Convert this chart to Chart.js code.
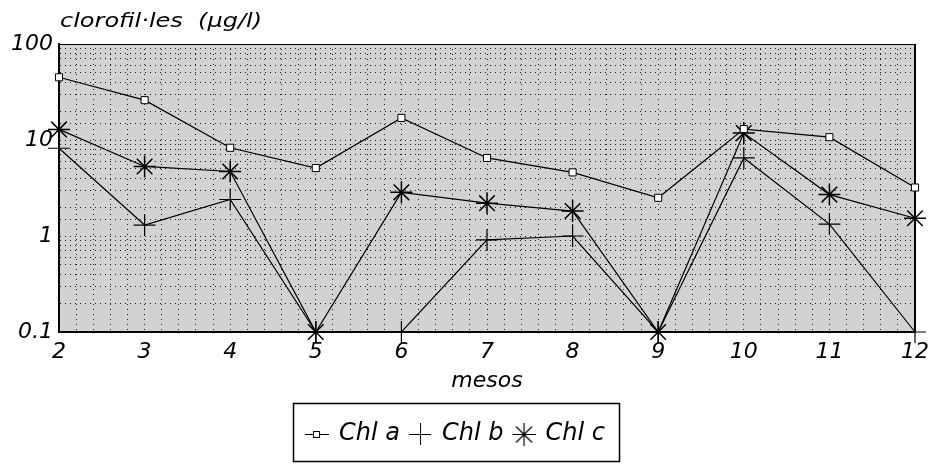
<!DOCTYPE html>
<html>
<head>
<meta charset="utf-8">
<script src="https://cdn.jsdelivr.net/npm/chart.js@4/dist/chart.umd.min.js"></script>
<style>
  html, body { margin: 0; padding: 0; background: #fff; }
  #c { display: block; }
</style>
</head>
<body>
<canvas id="c" width="941" height="466"></canvas>
<script>
// ---- data ----
const months = [2, 3, 4, 5, 6, 7, 8, 9, 10, 11, 12];
const chlA = [45, 26, 8.3, 5.1, 17, 6.5, 4.6, 2.5, 13, 10.7, 3.2];
const chlB = [8.2, 1.3, 2.4, 0.1, 0.1, 0.91, 1.0, 0.1, 6.5, 1.33, 0.1];
const chlC = [12.9, 5.3, 4.7, 0.1, 2.85, 2.2, 1.82, 0.1, 11.8, 2.7, 1.53];
const seriesNames = ['Chl a', 'Chl b', 'Chl c'];
const yTickLabels = ['0.1', '1', '10', '100'];
const yTitle = 'clorofil\u00B7les  (\u00B5g/l)';
const xTitle = 'mesos';

const FONT = "'DejaVu Sans', 'Liberation Sans', sans-serif";

// legend icons
function makeIcon(kind) {
  const cv = document.createElement('canvas');
  cv.width = 24; cv.height = 24;
  const g = cv.getContext('2d');
  g.strokeStyle = '#000'; g.lineWidth = 1;
  if (kind === 'a') {
    g.beginPath(); g.moveTo(0, 12.5); g.lineTo(24, 12.5); g.stroke();
    g.fillStyle = '#fff'; g.fillRect(8.5, 9.5, 6, 6); g.strokeRect(8.5, 9.5, 6, 6);
  } else if (kind === 'b') {
    g.beginPath(); g.moveTo(1, 12.5); g.lineTo(23, 12.5); g.moveTo(12.5, 1); g.lineTo(12.5, 23); g.stroke();
  } else {
    g.lineWidth = 1.2;
    g.beginPath();
    g.moveTo(1, 12.5); g.lineTo(24, 12.5); g.moveTo(12.5, 1); g.lineTo(12.5, 24);
    g.moveTo(4.5, 4.5); g.lineTo(20.5, 20.5); g.moveTo(20.5, 4.5); g.lineTo(4.5, 20.5);
    g.stroke();
  }
  return cv;
}
const legendIcons = [makeIcon('a'), makeIcon('b'), makeIcon('c')];

const bgPlugin = {
  id: 'bg',
  beforeDraw(chart) {
    const { ctx, chartArea: a } = chart;
    ctx.save();
    ctx.fillStyle = '#fff';
    ctx.fillRect(0, 0, chart.width, chart.height);
    ctx.fillStyle = '#d2d2d2';
    ctx.fillRect(a.left, a.top, a.right - a.left, a.bottom - a.top);
    ctx.restore();
  },
  beforeDatasetsDraw(chart) {
    const { ctx, chartArea: a } = chart;
    ctx.save();
    ctx.strokeStyle = '#000';
    ctx.lineWidth = 1;
    ctx.beginPath(); ctx.moveTo(a.left, a.top + 0.5); ctx.lineTo(a.right, a.top + 0.5); ctx.stroke();
    ctx.lineWidth = 2;
    ctx.beginPath(); ctx.moveTo(a.right, a.top); ctx.lineTo(a.right, a.bottom); ctx.stroke();
    ctx.restore();
  },
  afterDraw(chart) {
    const { ctx, chartArea: a } = chart;
    ctx.save();
    ctx.fillStyle = '#000';
    ctx.font = 'italic 20px ' + FONT;
    ctx.textBaseline = 'alphabetic';
    ctx.translate(a.left + 1, 27);
    ctx.scale(1.2, 1);
    ctx.fillText(yTitle, 0, 0);
    ctx.restore();
    // legend frame
    const L = chart.legend;
    if (L && L._boxStart !== undefined) {
      const fs = L.options.labels.font.size;
      const tc = L.top + L.options.labels.padding + fs / 2;
      ctx.save();
      ctx.strokeStyle = '#000';
      ctx.lineWidth = 1.5;
      ctx.strokeRect(Math.round(L._boxStart - 14) + 0.5, Math.round(tc - 31) + 0.5,
                     Math.round(L._boxEnd - L._boxStart + 28), 58);
      ctx.restore();
    }
  }
};

const legendShift = {
  id: 'legendShift',
  afterLayout(chart) {
    const L = chart.legend;
    if (!L || !L.lineWidths) return;
    const pad = L.options.labels.padding;
    const lw = L.lineWidths[0];
    const cur = (L.left + pad + L.right - lw) / 2;
    const contentW = lw - pad;
    const dx = 456 - (cur + contentW / 2);
    L.left += dx; L.right += dx;
    L._boxStart = cur + dx; L._boxEnd = cur + dx + contentW;
  }
};

function series(vals) { return months.map((m, i) => ({ x: m, y: vals[i] })); }

new Chart(document.getElementById('c'), {
  type: 'line',
  data: {
    datasets: [
      { label: seriesNames[0], data: series(chlA), borderColor: '#000', borderWidth: 1.2,
        pointStyle: 'rect', pointRadius: 5, pointBackgroundColor: '#fff', pointBorderColor: '#000',
        pointBorderWidth: 1, clip: false, tension: 0 },
      { label: seriesNames[1], data: series(chlB), borderColor: '#000', borderWidth: 1.2,
        pointStyle: 'cross', pointRadius: 11, pointBorderColor: '#000', pointBorderWidth: 1.2,
        clip: false, tension: 0 },
      { label: seriesNames[2], data: series(chlC), borderColor: '#000', borderWidth: 1.2,
        pointStyle: 'star', pointRadius: 11, pointBorderColor: '#000', pointBorderWidth: 1.5,
        clip: false, tension: 0 }
    ]
  },
  options: {
    responsive: false,
    devicePixelRatio: 1,
    animation: false,
    layout: { padding: { top: 44, right: 26, bottom: 10, left: 0 } },
    plugins: {
      tooltip: { enabled: false },
      title: { display: false },
      legend: {
        display: true,
        position: 'bottom',
        labels: {
          color: '#000',
          font: { family: FONT, size: 24, style: 'italic' },
          usePointStyle: true,
          pointStyleWidth: 20,
          boxHeight: 24,
          padding: 10,
          generateLabels(chart) {
            const items = Chart.defaults.plugins.legend.labels.generateLabels(chart);
            items.forEach((it, i) => { it.pointStyle = legendIcons[i]; it.fontColor = '#000'; });
            return items;
          }
        }
      }
    },
    scales: {
      x: {
        type: 'linear',
        min: months[0],
        max: months[months.length - 1],
        afterFit(s) { s.height = 80; },
        ticks: {
          stepSize: 0.2,
          autoSkip: false,
          maxRotation: 0,
          padding: 7,
          color: '#000',
          font: { family: FONT, size: 22, style: 'italic' },
          callback(v) {
            const r = Math.round(v);
            return Math.abs(v - r) < 1e-6 && months.includes(r) ? String(r) : '';
          }
        },
        grid: { color: 'rgba(0,0,0,0.85)', lineWidth: 1, drawTicks: false },
        border: { display: true, color: '#000', width: 2, dash: [1, 4] },
        title: { display: true, text: xTitle, color: '#000',
                 font: { family: FONT, size: 22, style: 'italic' },
                 padding: { top: 0, bottom: 18 } }
      },
      y: {
        type: 'logarithmic',
        min: 0.1,
        max: 100,
        afterFit(s) { s.width = 59; },
        ticks: {
          autoSkip: false,
          padding: 6,
          color: '#000',
          font: { family: FONT, size: 22, style: 'italic' },
          callback(v) {
            const lg = Math.log10(v);
            const r = Math.round(lg);
            if (Math.abs(lg - r) < 1e-6) {
              const idx = r + 1;
              return yTickLabels[idx] !== undefined ? yTickLabels[idx] : '';
            }
            return '';
          }
        },
        grid: { color: 'rgba(0,0,0,0.85)', lineWidth: 1, drawTicks: false },
        border: { display: true, color: '#000', width: 2, dash: [1, 4] }
      }
    }
  },
  plugins: [bgPlugin, legendShift]
});
</script>
</body>
</html>
